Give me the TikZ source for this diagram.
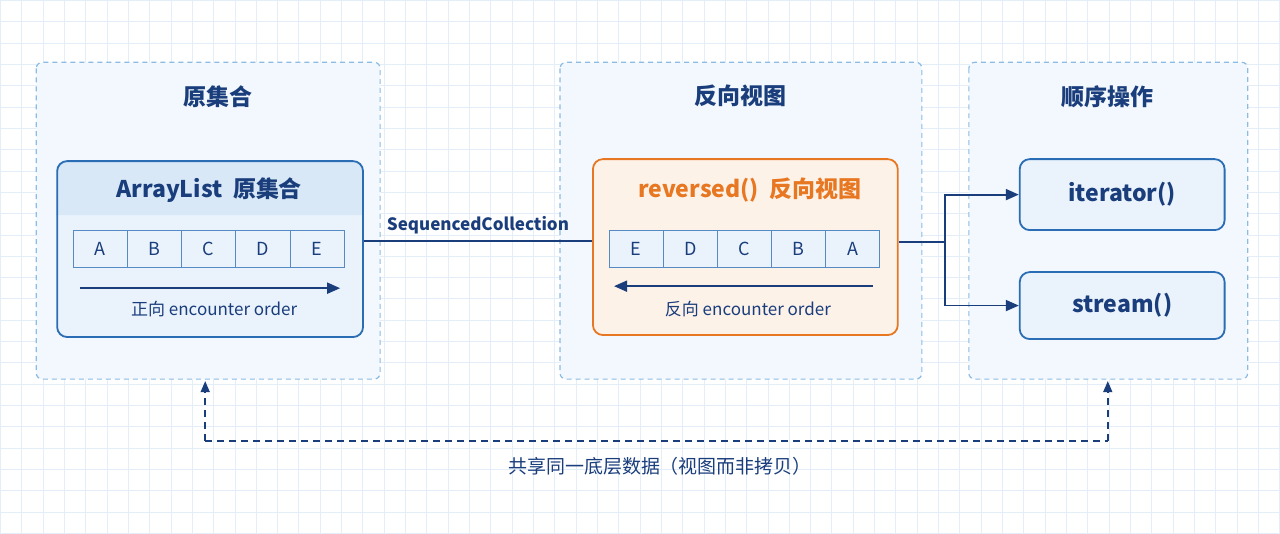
\documentclass[tikz,border=0pt]{standalone}
\usepackage{fontspec}
\setmainfont{Noto Sans CJK SC}
\usetikzlibrary{arrows.meta}
\definecolor{navy}{HTML}{1A3D7C}
\definecolor{bord}{HTML}{2A6DB5}
\definecolor{lfill}{HTML}{EAF3FC}
\definecolor{hfill}{HTML}{D8E8F7}
\definecolor{orng}{HTML}{E87722}
\definecolor{ofill}{HTML}{FDF2E8}
\definecolor{gfill}{HTML}{F2F8FD}
\definecolor{gdash}{HTML}{8CBBE3}
\definecolor{grid}{HTML}{E4EEF8}
\begin{document}
\begin{tikzpicture}[x=1pt,y=-1pt,
  group/.style={draw=gdash,dash pattern=on 5pt off 4pt,line width=1.2pt,fill=gfill,rounded corners=6},
  gtitle/.style={font=\fontsize{23}{27}\selectfont\bfseries,text=navy},
  card/.style={draw=bord,line width=1.8pt,rounded corners=10},
  cell/.style={draw=bord!80,fill=lfill,line width=0.8pt,minimum width=54.2pt,minimum height=37pt,inner sep=0pt,font=\fontsize{18}{21}\selectfont,text=navy},
  lab/.style={font=\fontsize{17}{20}\selectfont,text=navy},
  btitle/.style={font=\fontsize{23}{27}\selectfont\bfseries},
  conn/.style={draw=navy,line width=1.8pt},
  arr/.style={-{Triangle[length=13pt,width=11pt]}}]
\fill[white] (0,0) rectangle (1280,533);
\foreach \i in {0,...,60} \draw[grid,line width=0.6pt] ({\i*21.33},0) -- ({\i*21.33},533);
\foreach \j in {0,...,25} \draw[grid,line width=0.6pt] (0,{\j*21.33}) -- (1280,{\j*21.33});
\useasboundingbox (0,0) rectangle (1280,533);
% groups
\draw[group] (36,62) rectangle (380,379);
\draw[group] (560,62) rectangle (922,379);
\draw[group] (969,62) rectangle (1248,379);
\node[gtitle] (t1) at (218,96) {原集合};
\node[gtitle] (t2) at (741,96) {反向视图};
\node[gtitle] (t3) at (1108,96) {顺序操作};
% ArrayList card
\fill[lfill,rounded corners=10] (56,160) rectangle (362,336);
\fill[hfill,rounded corners=10] (56,215) -- (56,160) -- (362,160) -- (362,215);
\fill[hfill] (56,195) rectangle (362,215);
\node[card,minimum width=306pt,minimum height=176pt,anchor=north west] (al) at (56,160) {};
\node[btitle,text=navy] (alt) at (209,190) {ArrayList\ \ 原集合};
\foreach \l [count=\i] in {A,B,C,D,E}
  \node[cell] (a\i) at ({73+27.1+(\i-1)*54.2},248.5) {\l};
\coordinate (fa1) at (80,288); \coordinate (fa2) at (340,288);
\draw[conn,arr] (fa1) -- (fa2);
\node[lab] (ft) at (214,309) {正向 encounter order};
% reversed card
\node[card,draw=orng,fill=ofill,minimum width=305pt,minimum height=176pt,anchor=north west] (rv) at (592,158) {};
\node[btitle,text=orng] (rvt) at (750,190) {reversed()\ \ 反向视图};
\foreach \l [count=\i] in {E,D,C,B,A}
  \node[cell] (r\i) at ({609+27.1+(\i-1)*54.2},248.5) {\l};
\coordinate (ra1) at (873,286); \coordinate (ra2) at (614,286);
\draw[conn,arr] (ra1) -- (ra2);
\node[lab] (rt) at (748,309) {反向 encounter order};
% ops
\node[card,fill=lfill,minimum width=205pt,minimum height=71pt,anchor=north west,btitle,text=navy] (it) at (1019,158) {iterator()};
\node[card,fill=lfill,minimum width=205pt,minimum height=67pt,anchor=north west,btitle,text=navy] (st) at (1019,271) {stream()};
% connectors
\draw[conn] (al.east |- 0,241) -- node[above=3pt,font=\fontsize{17}{20}\selectfont\bfseries,text=navy] (sc) {SequencedCollection} (rv.west |- 0,241);
\coordinate (br) at (945,242);
\draw[conn] (rv.east |- br) -- (br);
\draw[conn,arr] (br) |- (it.west);
\draw[conn,arr] (br) |- (st.west);
% shared
\coordinate (d1) at (205,441); \coordinate (d2) at (1108,441);
\coordinate (u1) at (205,381); \coordinate (u2) at (1108,381);
\tikzset{shd/.style={navy,line width=1.6pt,dash pattern=on 7pt off 5pt}}
\draw[shd,-{Triangle[length=11pt,width=9pt]}] (d1) -- (u1);
\draw[shd,-{Triangle[length=11pt,width=9pt]}] (d2) -- (u2);
\draw[shd] (d1) -- (d2);
\node[lab,font=\fontsize{19}{22}\selectfont] (sh) at (660,466) {共享同一底层数据（视图而非拷贝）};
\end{tikzpicture}
\end{document}
